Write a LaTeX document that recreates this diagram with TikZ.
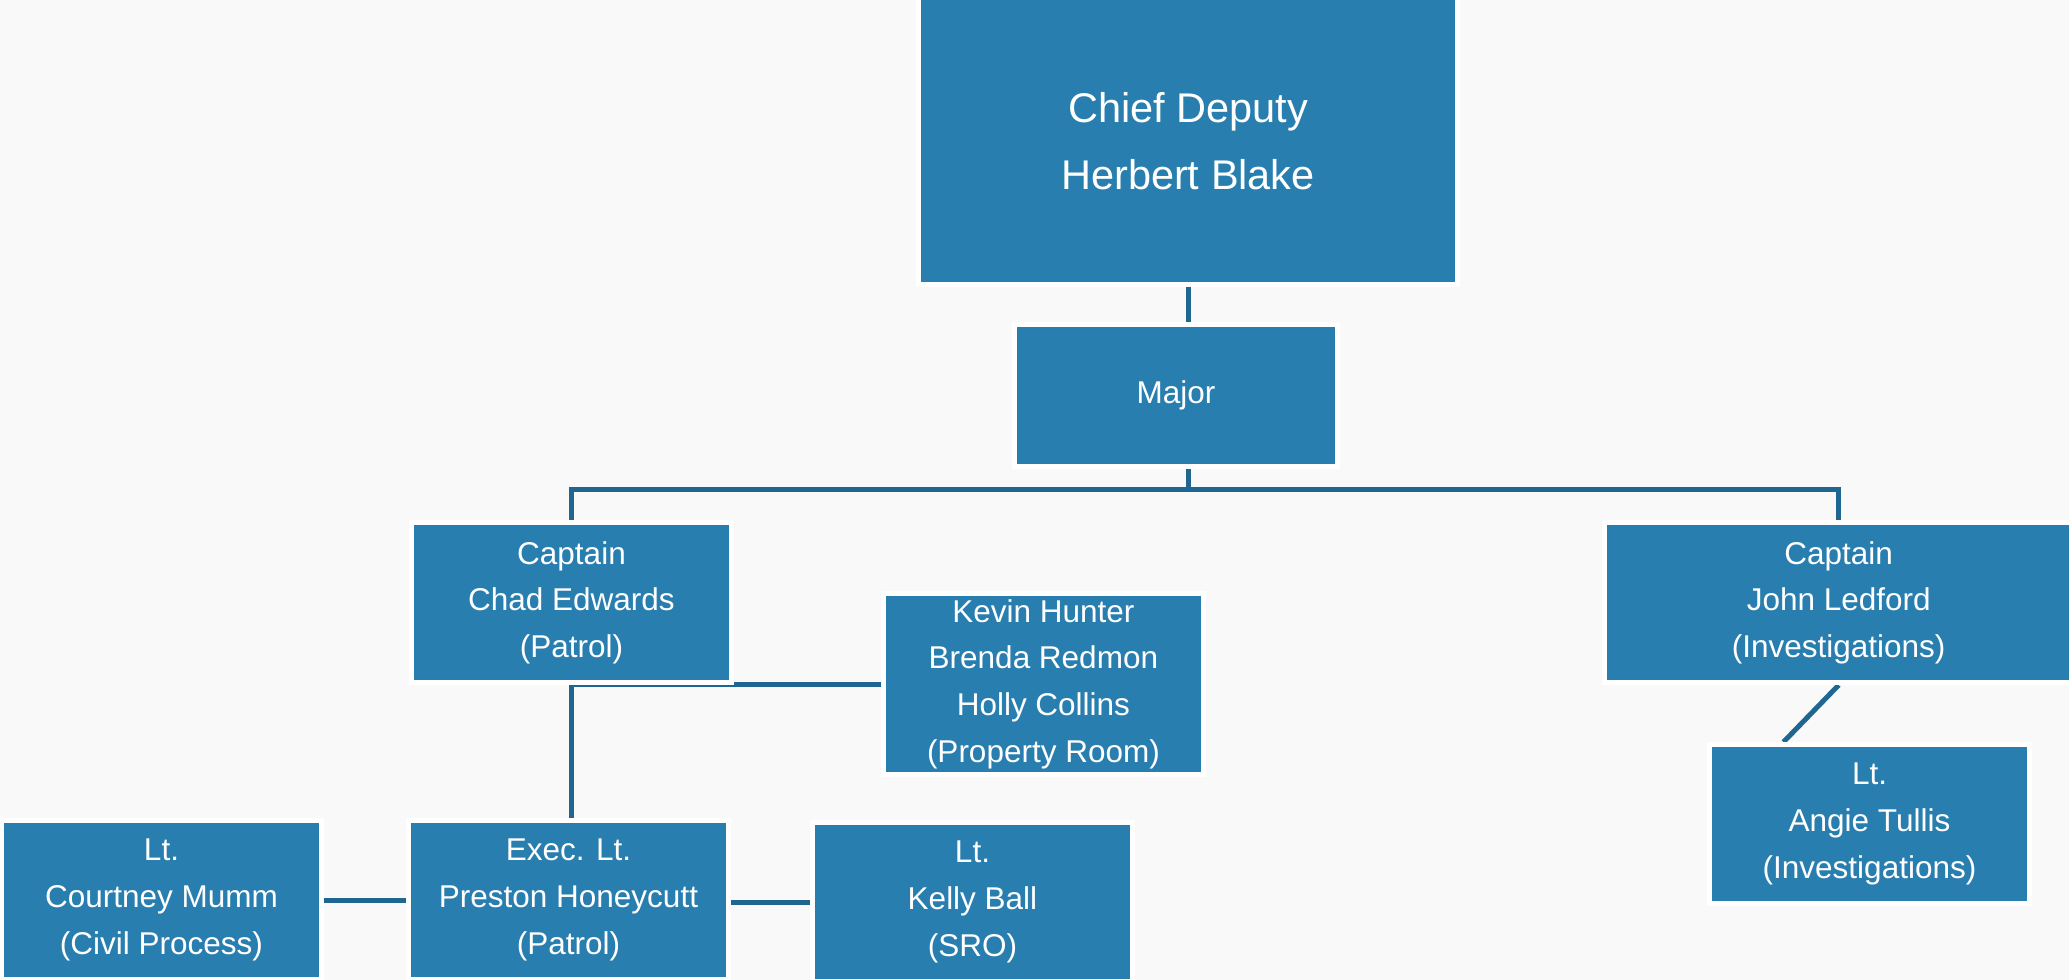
\documentclass[tikz,border=0pt]{standalone}
\usepackage{fontspec}
\setmainfont{Liberation Sans}
\usetikzlibrary{calc}
\definecolor{boxblue}{RGB}{41,126,176}
\definecolor{linkblue}{RGB}{31,103,145}
\definecolor{bg}{RGB}{249,249,249}
\pgfdeclarelayer{paper}
\pgfdeclarelayer{links}
\pgfsetlayers{paper,links,main}
\begin{document}
\begin{tikzpicture}[x=0.5pt,y=-0.5pt,
  orgbox/.style={rectangle, fill=boxblue, draw=white, line width=2.5pt, inner sep=0pt,
    text=white, align=center, font=\fontsize{15.75}{23.3}\selectfont},
  smallbox/.style={orgbox, minimum width=160pt, minimum height=79.5pt},
  link/.style={draw=linkblue, line width=2.5pt}]
\begin{pgfonlayer}{paper}
\fill[bg] (0,0) rectangle (2069,980);
\end{pgfonlayer}
\useasboundingbox (0,0) rectangle (2069,980);
\node[orgbox, minimum width=269.5pt, minimum height=143.5pt, font=\fontsize{20.75}{33.5}\selectfont] (chief) at (1188,141) {Chief Deputy\\Herbert Blake};
\node[orgbox, minimum width=161.75pt, minimum height=71pt] (major) at (1176,395.5) {Major};
\node[smallbox, minimum height=80pt] (chad) at (571.5,602.5) {Captain\\Chad Edwards\\(Patrol)};
\node[orgbox, minimum width=160.15pt, minimum height=90.5pt] (prop) at (1043.4,684) {Kevin Hunter\\Brenda Redmon\\Holly Collins\\(Property Room)};
\node[smallbox] (exec) at (568.5,900) {Exec. Lt.\\Preston Honeycutt\\(Patrol)};
\node[smallbox] (courtney) at (161.5,900) {Lt.\\Courtney Mumm\\(Civil Process)};
\node[smallbox] (kelly) at (972.5,902) {Lt.\\Kelly Ball\\(SRO)};
\node[orgbox, minimum width=234pt, minimum height=80pt] (john) at (1838.7,602.5) {Captain\\John Ledford\\(Investigations)};
\node[smallbox] (angie) at (1869.5,824) {Lt.\\Angie Tullis\\(Investigations)};
\coordinate (bar) at (1188,489);
\begin{pgfonlayer}{links}
\draw[link] (chief.south) -- (chief.south |- major.north);
\draw[link] (chief.south |- major.south) -- (bar);
\draw[link] (chad.north) |- (bar) -| (john.north);
\draw[link] (prop.west) -| (chad.south |- exec.north);
\draw[link] (courtney.east) -- (exec.west);
\draw[link] (kelly.west -| exec.east) -- (kelly.west);
\draw[link] (john.south) -- ([xshift=-43pt]angie.north);
\end{pgfonlayer}
\end{tikzpicture}
\end{document}
